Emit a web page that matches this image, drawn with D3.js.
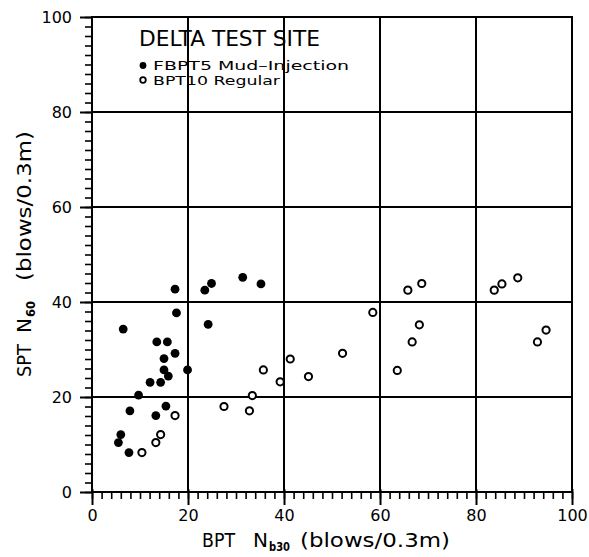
<!DOCTYPE html>
<html>
<head>
<meta charset="utf-8">
<script src="https://cdn.jsdelivr.net/npm/d3@7"></script>
<style>
  html, body { margin: 0; padding: 0; background: #fff; }
  svg { display: block; font-family: "DejaVu Sans", sans-serif; }
</style>
</head>
<body>
<svg id="chart" width="589" height="557"></svg>
<script>
// ---- data ----
const mudInjection = [ // FBPT5 Mud-Injection: [BPT Nb30, SPT N60]
  [17.3,42.7],[23.5,42.5],[24.9,43.9],[31.4,45.2],[35.2,43.8],[17.6,37.7],
  [24.2,35.3],[6.5,34.3],[13.5,31.6],[15.7,31.6],[17.3,29.2],[15.0,28.1],
  [19.9,25.7],[15.0,25.7],[15.9,24.4],[12.1,23.1],[14.3,23.1],[9.7,20.4],
  [7.9,17.1],[15.4,18.1],[13.3,16.1],[6.0,12.1],[5.5,10.4],[7.7,8.3]
];
const regular = [ // BPT10 Regular
  [17.3,16.1],[14.3,12.1],[13.3,10.4],[10.4,8.3],[58.5,37.8],[52.2,29.2],
  [41.3,28.0],[35.7,25.7],[45.1,24.3],[39.2,23.2],[33.4,20.3],[27.5,18.0],
  [32.8,17.1],[63.6,25.6],[65.8,42.5],[68.7,43.9],[68.2,35.2],[66.7,31.6],
  [83.8,42.5],[85.4,43.8],[88.7,45.1],[94.6,34.1],[92.8,31.6]
];
const majorTicks = [0, 20, 40, 60, 80, 100];
const gridValues = [20, 40, 60, 80];
const minorTicks = d3.range(0, 101, 2);
const legendTitle = "DELTA TEST SITE";
const seriesNames = ["FBPT5 Mud\u2013Injection", "BPT10 Regular"];

// ---- layout ----
const svg = d3.select("#chart");
const x = d3.scaleLinear().domain([0, 100]).range([92, 572]);
const y = d3.scaleLinear().domain([0, 100]).range([492, 17]);

// grid
const g = svg.append("g").attr("shape-rendering", "crispEdges");
g.selectAll(".gx").data(gridValues).join("line")
  .attr("x1", d => x(d)).attr("x2", d => x(d))
  .attr("y1", y(0)).attr("y2", y(100))
  .attr("stroke", "#000").attr("stroke-width", 2);
g.selectAll(".gy").data(gridValues).join("line")
  .attr("y1", d => y(d)).attr("y2", d => y(d))
  .attr("x1", x(0)).attr("x2", x(100))
  .attr("stroke", "#000").attr("stroke-width", 2);
// frame
g.append("rect")
  .attr("x", x(0)).attr("y", y(100))
  .attr("width", x(100) - x(0)).attr("height", y(0) - y(100))
  .attr("fill", "none").attr("stroke", "#000").attr("stroke-width", 2);

// minor ticks
const minorX = svg.append("g").attr("transform", `translate(0,${y(0)})`)
  .call(d3.axisBottom(x).tickValues(minorTicks).tickSize(7).tickFormat(""));
const minorY = svg.append("g").attr("transform", `translate(${x(0)},0)`)
  .call(d3.axisLeft(y).tickValues(minorTicks).tickSize(7).tickFormat(""));
[minorX, minorY].forEach(a => {
  a.select(".domain").remove();
  a.selectAll("line").attr("stroke", "#000").attr("stroke-width", 1.6);
});

// major ticks with labels
const xAxis = svg.append("g").attr("transform", `translate(0,${y(0)})`)
  .call(d3.axisBottom(x).tickValues(majorTicks).tickSize(13).tickFormat(d3.format("d")));
const yAxis = svg.append("g").attr("transform", `translate(${x(0)},0)`)
  .call(d3.axisLeft(y).tickValues(majorTicks).tickSize(12).tickPadding(8).tickFormat(d3.format("d")));
[xAxis, yAxis].forEach(a => {
  a.select(".domain").remove();
  a.selectAll("line").attr("stroke", "#000").attr("stroke-width", 2);
  a.selectAll("text").attr("fill", "#000").attr("font-size", 16)
    .attr("font-family", "DejaVu Sans, sans-serif");
});
xAxis.selectAll("text").attr("y", 29).attr("dy", 0);
xAxis.selectAll("line").attr("y1", -3);

// axis titles
const xt = svg.append("g").attr("fill", "#000");
xt.append("text").attr("x", 202).attr("y", 547).attr("font-size", 20)
  .attr("textLength", 33).attr("lengthAdjust", "spacingAndGlyphs").text("BPT");
xt.append("text").attr("x", 253).attr("y", 547).attr("font-size", 20)
  .attr("textLength", 15).attr("lengthAdjust", "spacingAndGlyphs").text("N");
xt.append("text").attr("x", 269).attr("y", 551).attr("font-size", 11.5)
  .attr("font-weight", "bold")
  .attr("textLength", 21).attr("lengthAdjust", "spacingAndGlyphs").text("b30");
xt.append("text").attr("x", 300).attr("y", 547).attr("font-size", 20)
  .attr("textLength", 150).attr("lengthAdjust", "spacingAndGlyphs").text("(blows/0.3m)");

const yt = svg.append("g").attr("fill", "#000").attr("transform", "rotate(-90)");
yt.append("text").attr("x", -377).attr("y", 31).attr("font-size", 20)
  .attr("textLength", 33).attr("lengthAdjust", "spacingAndGlyphs").text("SPT");
yt.append("text").attr("x", -333).attr("y", 31).attr("font-size", 20)
  .attr("textLength", 15).attr("lengthAdjust", "spacingAndGlyphs").text("N");
yt.append("text").attr("x", -317).attr("y", 35).attr("font-size", 11.5)
  .attr("font-weight", "bold")
  .attr("textLength", 16).attr("lengthAdjust", "spacingAndGlyphs").text("60");
yt.append("text").attr("x", -281).attr("y", 31).attr("font-size", 20)
  .attr("textLength", 150).attr("lengthAdjust", "spacingAndGlyphs").text("(blows/0.3m)");

// points
svg.append("g").selectAll("circle").data(mudInjection).join("circle")
  .attr("cx", d => x(d[0])).attr("cy", d => y(d[1])).attr("r", 4.4)
  .attr("fill", "#000");
svg.append("g").selectAll("circle").data(regular).join("circle")
  .attr("cx", d => x(d[0])).attr("cy", d => y(d[1])).attr("r", 3.6)
  .attr("fill", "#fff").attr("stroke", "#000").attr("stroke-width", 2);

// legend
const lg = svg.append("g").attr("fill", "#000");
lg.append("text").attr("x", 139).attr("y", 46).attr("font-size", 21)
  .attr("textLength", 181).attr("lengthAdjust", "spacingAndGlyphs").text(legendTitle);
lg.append("circle").attr("cx", 143).attr("cy", 65.5).attr("r", 3.4).attr("fill", "#000");
lg.append("text").attr("x", 153).attr("y", 70).attr("font-size", 13)
  .attr("textLength", 196).attr("lengthAdjust", "spacingAndGlyphs").text(seriesNames[0]);
lg.append("circle").attr("cx", 143).attr("cy", 80).attr("r", 2.8)
  .attr("fill", "#fff").attr("stroke", "#000").attr("stroke-width", 1.8);
lg.append("text").attr("x", 153).attr("y", 85).attr("font-size", 13)
  .attr("textLength", 127).attr("lengthAdjust", "spacingAndGlyphs").text(seriesNames[1]);
</script>
</body>
</html>
